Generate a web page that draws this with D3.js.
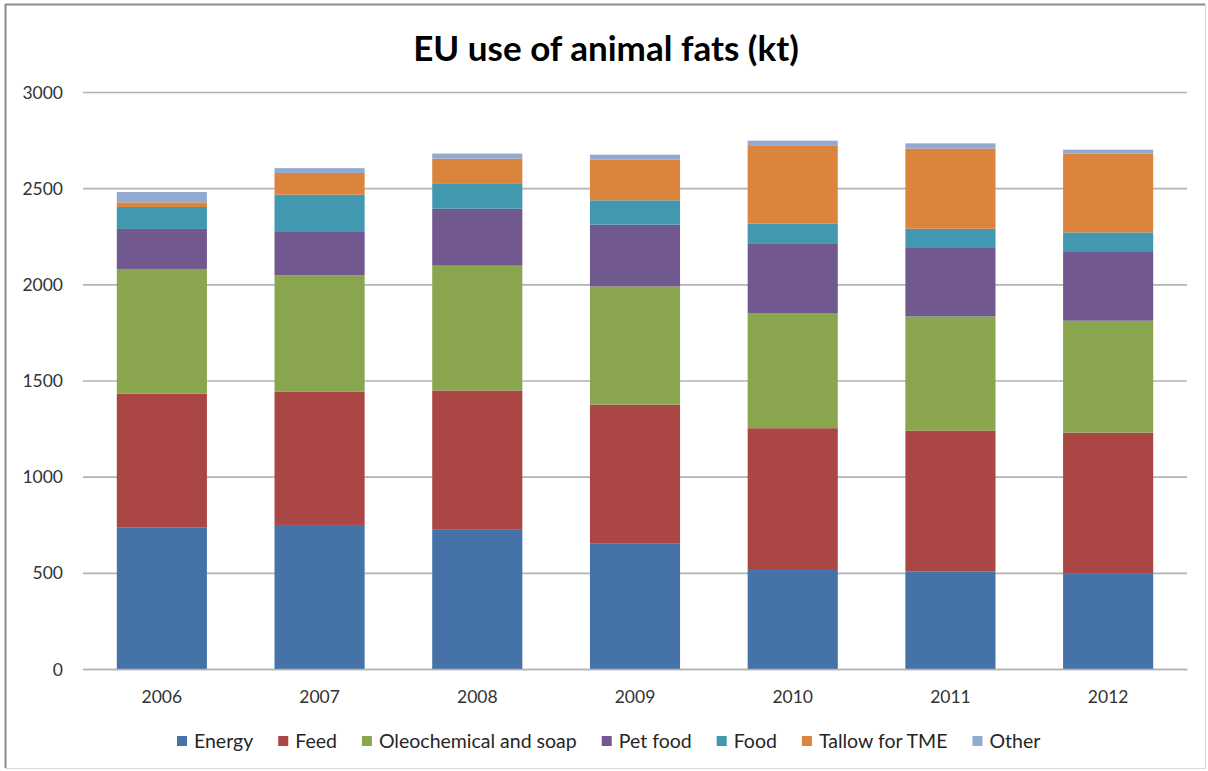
<!DOCTYPE html>
<html>
<head>
<meta charset="utf-8">
<script src="https://cdn.jsdelivr.net/npm/d3@7"></script>
<style>
  html, body { margin: 0; padding: 0; background: #fff; }
  svg { display: block; }
  text { font-family: Lato, "Open Sans", sans-serif; }
</style>
</head>
<body>
<svg id="chart" width="1208" height="771"></svg>
<script>
// EU use of animal fats, kilotonnes per year, stacked by end use
const years = ["2006", "2007", "2008", "2009", "2010", "2011", "2012"];
const seriesNames = ["Energy", "Feed", "Oleochemical and soap", "Pet food", "Food", "Tallow for TME", "Other"];
const energy   = [737, 749, 727, 654, 520, 506, 498];
const feed     = [694, 692, 721, 721, 732, 734, 731];
const oleo     = [649, 605, 649, 614, 599, 593, 582];
const petFood  = [208, 226, 296, 321, 359, 356, 357];
const food     = [114, 194, 129, 127, 105, 100, 102];
const tallow   = [24, 113, 131, 211, 408, 417, 410];
const other    = [54, 25, 27, 26, 24, 27, 20];
const yTicks   = [0, 500, 1000, 1500, 2000, 2500, 3000];
const colors   = ["#4572a7", "#aa4643", "#89a54e", "#71588f", "#4198af", "#db843d", "#93a9cf"];

const seriesValues = [energy, feed, oleo, petFood, food, tallow, other];
const rows = years.map((yr, i) => {
  const r = { year: yr };
  seriesNames.forEach((s, k) => { r[s] = seriesValues[k][i]; });
  return r;
});

const svg = d3.select("#chart");
const W = 1208, H = 771;
const plot = { left: 83, right: 1187, top: 92, bottom: 669 };

// chart frame
svg.append("rect").attr("x", 0).attr("y", 0).attr("width", W).attr("height", H).attr("fill", "#fff");
svg.append("line").attr("x1", 5).attr("x2", 1205).attr("y1", 4.5).attr("y2", 4.5).attr("stroke", "#8c8c8c").attr("stroke-width", 2);
svg.append("line").attr("x1", 5.5).attr("x2", 5.5).attr("y1", 4).attr("y2", 768).attr("stroke", "#8c8c8c").attr("stroke-width", 2);
svg.append("line").attr("x1", 1205.5).attr("x2", 1205.5).attr("y1", 4).attr("y2", 768).attr("stroke", "#d9d9d9").attr("stroke-width", 1);
svg.append("line").attr("x1", 5).attr("x2", 1206).attr("y1", 768.5).attr("y2", 768.5).attr("stroke", "#d9d9d9").attr("stroke-width", 1);

const x = d3.scaleBand()
  .domain(years)
  .range([plot.left, plot.right])
  .paddingInner(0.4286)
  .paddingOuter(0.2143);

const y = d3.scaleLinear()
  .domain([0, 3000])
  .range([plot.bottom, plot.top]);

// horizontal gridlines
const yAxis = d3.axisLeft(y).tickValues(yTicks).tickSize(-(plot.right - plot.left)).tickPadding(20).tickFormat(d3.format("d"));
const gy = svg.append("g").attr("transform", `translate(${plot.left},0)`).call(yAxis);
gy.select(".domain").remove();
gy.selectAll(".tick line").attr("stroke", "#b3b3b3").attr("stroke-width", 1.6);
gy.selectAll(".tick text").attr("fill", "#333").style("font-size", "17.5px").attr("dy", "0.35em");

// stacked bars
const stack = d3.stack().keys(seriesNames);
const layers = stack(rows);
svg.append("g").selectAll("g")
  .data(layers)
  .join("g")
  .attr("fill", (d, i) => colors[i])
  .selectAll("rect")
  .data(d => d)
  .join("rect")
  .attr("x", d => x(d.data.year))
  .attr("width", x.bandwidth())
  .attr("y", d => y(d[1]))
  .attr("height", d => y(d[0]) - y(d[1]));

// x axis
const xAxis = d3.axisBottom(x).tickSize(0).tickPadding(22);
const gx = svg.append("g").attr("transform", `translate(0,${plot.bottom})`).call(xAxis);
gx.select(".domain").attr("stroke", "#b3b3b3").attr("stroke-width", 1.6);
gx.selectAll(".tick text").attr("fill", "#333").style("font-size", "17.5px");

// title
svg.append("text")
  .attr("x", 606).attr("y", 61)
  .attr("text-anchor", "middle")
  .style("font-size", "35px").style("font-weight", "bold")
  .attr("fill", "#000")
  .text("EU use of animal fats (kt)");

// legend
const legend = svg.append("g").attr("transform", "translate(0,741)");
let lx = 177;
seriesNames.forEach((name, i) => {
  const g = legend.append("g").attr("transform", `translate(${lx},0)`);
  g.append("rect").attr("x", 0).attr("y", -5).attr("width", 10).attr("height", 10).attr("fill", colors[i]);
  const t = g.append("text").attr("x", 17).attr("y", 0).attr("dy", "0.35em")
    .attr("fill", "#262626").style("font-size", "19.5px").text(name);
  lx += 17 + t.node().getComputedTextLength() + 25;
});
</script>
</body>
</html>
